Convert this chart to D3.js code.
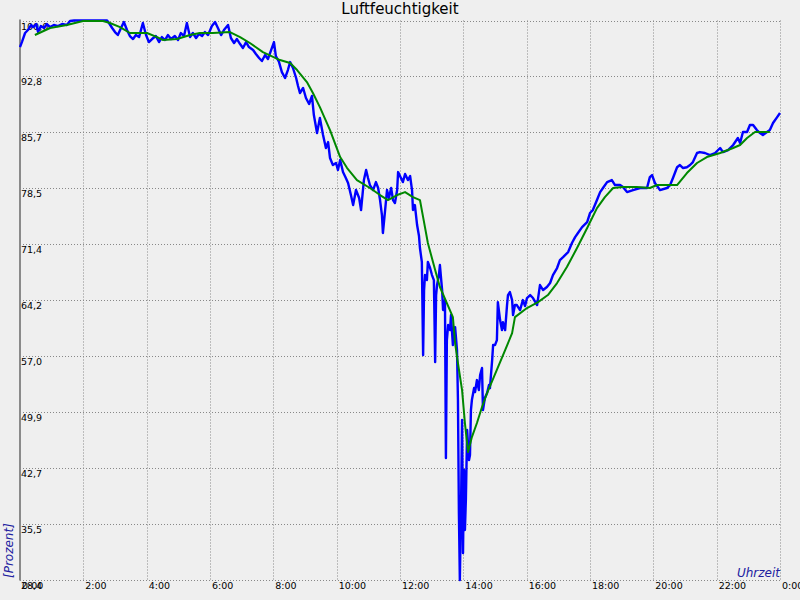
<!DOCTYPE html>
<html>
<head>
<meta charset="utf-8">
<script src="https://cdn.jsdelivr.net/npm/d3@7"></script>
<style>
html,body{margin:0;padding:0;background:#efefef;}
svg{display:block;}
</style>
</head>
<body>
<svg id="chart" width="800" height="600"></svg>
<script>
const title = "Luftfeuchtigkeit";
const yTitle = "[Prozent]";
const xTitle = "Uhrzeit";

const xTickValues = [0,2,4,6,8,10,12,14,16,18,20,22,24];
const xTickLabels = ["0:00","2:00","4:00","6:00","8:00","10:00","12:00","14:00","16:00","18:00","20:00","22:00","0:00"];
const yTickValues = [100, 92.84, 85.68, 78.52, 71.36, 64.20, 57.03, 49.87, 42.71, 35.55, 28.39];
const yTickLabels = ["100,0","92,8","85,7","78,5","71,4","64,2","57,0","49,9","42,7","35,5","28,4"];

// measured humidity (hours, percent)
const measTime = [0.00,0.06,0.16,0.25,0.35,0.41,0.51,0.57,0.66,0.76,0.85,0.95,1.07,1.20,1.33,1.48,1.58,1.71,1.89,2.21,2.53,2.75,2.81,2.91,3.00,3.09,3.19,3.28,3.38,3.47,3.57,3.66,3.76,3.88,3.98,4.07,4.17,4.29,4.39,4.48,4.58,4.67,4.77,4.89,4.99,5.08,5.18,5.27,5.37,5.46,5.56,5.65,5.75,5.84,5.94,6.06,6.16,6.25,6.35,6.44,6.57,6.66,6.76,6.85,6.95,7.04,7.14,7.23,7.36,7.45,7.55,7.64,7.74,7.83,7.93,8.02,8.08,8.18,8.27,8.37,8.46,8.53,8.62,8.72,8.78,8.84,8.94,9.03,9.13,9.22,9.28,9.38,9.47,9.57,9.66,9.73,9.79,9.88,9.98,10.04,10.11,10.20,10.29,10.36,10.45,10.52,10.61,10.71,10.77,10.86,10.93,10.99,11.05,11.15,11.24,11.31,11.37,11.43,11.46,11.53,11.59,11.65,11.72,11.78,11.84,11.91,11.94,12.03,12.09,12.16,12.25,12.32,12.38,12.41,12.47,12.54,12.60,12.63,12.69,12.73,12.76,12.79,12.85,12.88,12.95,13.01,13.07,13.11,13.14,13.17,13.23,13.26,13.33,13.36,13.42,13.45,13.48,13.52,13.58,13.61,13.67,13.74,13.80,13.83,13.86,13.89,13.93,13.96,13.99,14.02,14.05,14.08,14.12,14.18,14.21,14.24,14.27,14.34,14.37,14.43,14.49,14.53,14.59,14.62,14.68,14.75,14.81,14.84,14.91,14.94,15.00,15.06,15.09,15.16,15.22,15.25,15.32,15.38,15.41,15.47,15.54,15.57,15.63,15.69,15.79,15.88,15.95,16.01,16.11,16.20,16.33,16.42,16.52,16.64,16.74,16.83,16.96,17.05,17.15,17.31,17.43,17.53,17.62,17.75,17.91,18.00,18.09,18.22,18.32,18.41,18.54,18.69,18.79,18.95,19.04,19.17,19.36,19.58,19.80,19.89,19.96,20.05,20.21,20.43,20.53,20.62,20.75,20.84,20.94,21.06,21.16,21.25,21.38,21.47,21.63,21.79,21.95,22.11,22.20,22.36,22.52,22.67,22.74,22.83,22.96,23.05,23.15,23.27,23.37,23.46,23.59,23.68,23.78,23.91,24.00];
const measValue = [96.60,97.24,98.40,98.78,99.42,99.16,99.55,98.52,99.29,99.04,99.55,99.16,99.42,99.29,99.55,99.42,99.93,100,100,100,100,100,99.68,99.04,98.52,98.14,99.04,99.80,98.78,98.01,97.63,98.14,97.88,99.68,98.14,97.24,97.63,98.01,97.24,97.88,97.50,98.14,97.63,98.01,97.50,98.40,98.01,99.68,97.88,98.40,97.76,98.27,98.01,98.52,98.14,99.29,99.80,99.04,98.14,98.78,99.42,97.76,97.12,97.63,96.99,96.48,97.24,96.60,96.22,95.71,95.20,94.81,95.58,95.07,96.22,97.24,95.45,94.68,93.40,92.64,93.66,94.68,93.92,92.64,91.61,90.72,91.36,90.08,89.31,90.34,87.90,85.60,87.52,85.34,83.68,84.44,82.40,81.50,81.76,80.86,82.14,80.60,79.84,79.20,77.66,76.38,78.30,77.28,75.74,79.58,80.86,79.84,78.94,78.30,79.32,78.56,77.02,75.10,72.80,75.74,78.30,77.28,78.56,77.02,76.64,78.30,80.60,79.84,79.32,80.35,79.58,80.09,78.30,75.74,76.38,73.82,72.41,70.88,69.09,57.18,65.50,67.42,66.78,69.09,68.32,67.42,66.78,56.28,64.86,66.14,67.42,68.70,65.50,62.94,64.22,44.00,59.10,61.02,60.38,62.30,58.46,60.76,57.82,51.42,36.96,28.39,38.62,48.86,31.84,42.46,34.78,38.62,47.58,43.74,44.38,50.14,51.42,52.96,52.45,53.98,52.70,54.62,55.52,50.14,51.68,52.32,53.34,52.96,56.54,58.46,58.46,59.10,63.94,61.66,60.38,61.40,60.38,63.58,64.86,65.24,64.22,62.30,63.58,63.58,62.94,64.22,63.45,64.48,64.86,64.48,63.58,66.14,65.50,65.89,66.40,67.42,68.32,69.34,69.72,70.36,71.52,72.28,72.80,73.56,74.20,75.36,75.74,77.02,78.04,78.56,79.32,79.58,78.94,78.94,78.68,78.04,78.30,78.56,78.56,79.96,80.22,79.20,78.30,78.56,78.94,79.84,81.22,81.50,81.12,81.22,81.50,81.88,83.04,83.16,83.04,82.78,83.04,83.68,83.16,83.42,84.06,84.96,84.32,85.72,85.72,86.62,86.62,85.98,85.60,85.34,85.72,85.98,86.88,87.64,88.16];

// smoothed humidity (hours, percent)
const smoothTime = [0.47,0.95,1.48,1.99,2.62,2.84,3.16,3.47,4.01,4.33,4.52,4.96,5.37,5.68,6.09,6.63,6.95,7.26,7.67,8.21,8.53,8.75,9.06,9.25,9.47,9.79,10.11,10.33,10.64,11.05,11.37,11.62,11.91,12.16,12.41,12.63,12.73,12.88,13.11,13.26,13.48,13.67,13.74,13.83,13.96,14.05,14.15,14.27,14.43,14.59,14.75,15.32,15.54,15.63,16.01,16.36,16.67,16.96,17.27,17.59,17.91,18.22,18.47,18.73,19.04,19.48,19.89,20.12,20.75,21.06,21.38,21.69,22.11,22.52,22.74,22.96,23.21,23.68];
const smoothValue = [98.14,99.04,99.42,99.93,99.93,99.68,99.16,98.40,98.40,97.88,97.50,97.63,98.14,98.40,98.40,98.52,97.88,97.12,95.96,94.94,94.56,93.66,92.12,90.72,88.92,85.98,82.52,81.12,79.58,78.56,77.66,77.02,77.66,78.04,77.40,77.02,74.84,71.52,68.06,65.89,63.84,62.04,58.72,56.16,52.70,48.48,44.76,46.68,48.48,50.53,52.32,57.82,59.98,62.04,63.20,63.96,64.86,66.40,68.44,70.88,73.44,75.98,77.40,78.56,78.68,78.68,78.56,78.94,78.94,80.48,81.76,82.52,83.04,83.68,84.06,84.96,85.72,85.72];

const W = 800, H = 600;
const plot = {left: 20, right: 780, top: 20.5, bottom: 580};
const svg = d3.select("#chart");
svg.append("rect").attr("width", W).attr("height", H).attr("fill", "#efefef");

const x = d3.scaleLinear().domain([0, 24]).range([plot.left, plot.right]);
const y = d3.scaleLinear().domain([28.39, 100]).range([plot.bottom, plot.top]);

const font = "DejaVu Sans, Verdana, sans-serif";

// grid
const grid = svg.append("g").attr("stroke", "#888").attr("stroke-width", 1).attr("stroke-dasharray", "1,2");
grid.selectAll("line.v").data(xTickValues.slice(1)).join("line")
  .attr("x1", d => Math.round(x(d)) + 0.5).attr("x2", d => Math.round(x(d)) + 0.5)
  .attr("y1", plot.top).attr("y2", plot.bottom);
grid.selectAll("line.h").data(yTickValues).join("line")
  .attr("x1", plot.left).attr("x2", plot.right)
  .attr("y1", d => Math.round(y(d)) + 0.5).attr("y2", d => Math.round(y(d)) + 0.5);

// left axis bar
svg.append("line").attr("x1", 20).attr("x2", 20).attr("y1", plot.top - 1).attr("y2", plot.bottom + 0.5)
  .attr("stroke", "#8a8a8a").attr("stroke-width", 2);

// y tick labels
svg.append("g").selectAll("text").data(yTickValues).join("text")
  .attr("x", plot.left + 1).attr("y", d => Math.round(y(d)) + 9)
  .attr("font-family", font).attr("font-size", 9.5).attr("fill", "#000")
  .text((d, i) => yTickLabels[i]);

// x tick labels
svg.append("g").selectAll("text").data(xTickValues).join("text")
  .attr("x", d => x(d) + 2).attr("y", 589)
  .attr("font-family", font).attr("font-size", 9.5).attr("fill", "#000")
  .text((d, i) => xTickLabels[i]);

// title
svg.append("text").attr("x", 400).attr("y", 13.5).attr("text-anchor", "middle")
  .attr("font-family", font).attr("font-size", 15).attr("fill", "#000").text(title);

// axis titles
svg.append("text").attr("transform", "translate(13,578) rotate(-90)")
  .attr("font-family", font).attr("font-style", "italic").attr("font-size", 12)
  .attr("fill", "#2020a0").text(yTitle);
svg.append("text").attr("x", 780).attr("y", 577).attr("text-anchor", "end")
  .attr("font-family", font).attr("font-style", "italic").attr("font-size", 12)
  .attr("fill", "#2020a0").text(xTitle);

// lines
const meas = measTime.map((t, i) => [t, measValue[i]]);
const smooth = smoothTime.map((t, i) => [t, smoothValue[i]]);
const line = d3.line().x(d => x(d[0])).y(d => y(d[1]));

svg.append("path").datum(meas).attr("d", line)
  .attr("fill", "none").attr("stroke", "#0000ff").attr("stroke-width", 2.4).attr("stroke-linejoin", "round");
svg.append("path").datum(smooth).attr("d", line)
  .attr("fill", "none").attr("stroke", "#008800").attr("stroke-width", 2).attr("stroke-linejoin", "round");
</script>
</body>
</html>
